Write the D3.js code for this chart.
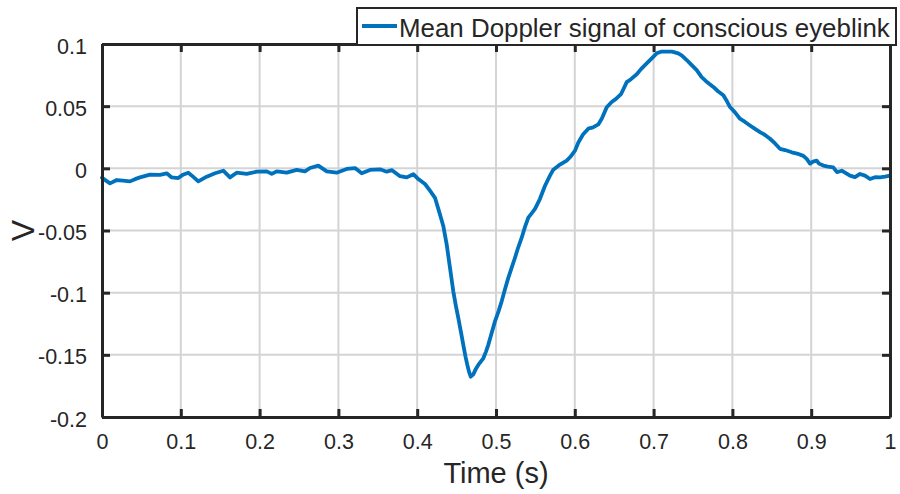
<!DOCTYPE html>
<html>
<head>
<meta charset="utf-8">
<script src="https://cdn.jsdelivr.net/npm/d3@7"></script>
<style>
  html, body { margin: 0; padding: 0; background: #fff; }
  svg { display: block; font-family: "Liberation Sans", Arial, sans-serif; }
</style>
</head>
<body>
<svg id="chart" width="900" height="494"></svg>
<script>
// Mean Doppler signal of a conscious eyeblink (time in s, amplitude in V)
const timeS = [
  0, 0.0051, 0.0102, 0.0187, 0.0266, 0.0355, 0.0419, 0.0482, 0.0609, 0.0736,
  0.0821, 0.0885, 0.0968, 0.1028, 0.1095, 0.1155, 0.1222, 0.1329, 0.1434, 0.1539,
  0.1624, 0.1709, 0.1836, 0.1963, 0.2090, 0.2154, 0.2217, 0.2344, 0.2471, 0.2576,
  0.2640, 0.2745, 0.2852, 0.2978, 0.3105, 0.3211, 0.3296, 0.3401, 0.3528, 0.3613,
  0.3680, 0.3782, 0.3867, 0.3951, 0.4014, 0.4099, 0.4162, 0.4226, 0.4268, 0.4302,
  0.4331, 0.4374, 0.4416, 0.4458, 0.4492, 0.4522, 0.4556, 0.4585, 0.4613, 0.4636,
  0.4657, 0.4679, 0.4712, 0.4746, 0.4775, 0.4839, 0.4873, 0.4902, 0.4943, 0.4987,
  0.5032, 0.5072, 0.5114, 0.5156, 0.5197, 0.5241, 0.5279, 0.5326, 0.5368, 0.5410,
  0.5457, 0.5495, 0.5558, 0.5622, 0.5685, 0.5727, 0.5812, 0.5897, 0.5939, 0.6003,
  0.6045, 0.6104, 0.6171, 0.6231, 0.6298, 0.6345, 0.6405, 0.6468, 0.6523, 0.6586,
  0.6659, 0.6713, 0.6786, 0.6840, 0.6912, 0.6967, 0.7039, 0.7094, 0.7166, 0.7234,
  0.7313, 0.7360, 0.7420, 0.7462, 0.7547, 0.7610, 0.7665, 0.7758, 0.7817, 0.7885,
  0.7931, 0.7970, 0.8033, 0.8096, 0.8160, 0.8223, 0.8287, 0.8350, 0.8414, 0.8477,
  0.8541, 0.8604, 0.8668, 0.8753, 0.8820, 0.8900, 0.8943, 0.8985, 0.9023, 0.9070,
  0.9099, 0.9154, 0.9213, 0.9280, 0.9327, 0.9387, 0.9429, 0.9492, 0.9556, 0.9619,
  0.9683, 0.9746, 0.9810, 0.9873, 0.9937, 1.0000
];
const signalV = [
  -0.0075, -0.0099, -0.0121, -0.0094, -0.0099, -0.0105, -0.0087, -0.0073, -0.0051, -0.0053,
  -0.0040, -0.0073, -0.0078, -0.0051, -0.0035, -0.0067, -0.0105, -0.0067, -0.0040, -0.0019,
  -0.0073, -0.0035, -0.0045, -0.0027, -0.0024, -0.0045, -0.0024, -0.0035, -0.0013, -0.0024,
  0.0003, 0.0022, -0.0024, -0.0035, -0.0005, 0.0002, -0.0040, -0.0013, -0.0008, -0.0027,
  -0.0015, -0.0063, -0.0073, -0.0047, -0.0086, -0.0126, -0.0180, -0.0237, -0.0326, -0.0399,
  -0.0463, -0.0611, -0.0800, -0.0989, -0.1110, -0.1205, -0.1320, -0.1420, -0.1514, -0.1581,
  -0.1635, -0.1676, -0.1657, -0.1611, -0.1581, -0.1528, -0.1474, -0.1420, -0.1328, -0.1231,
  -0.1150, -0.1070, -0.0973, -0.0881, -0.0803, -0.0719, -0.0641, -0.0558, -0.0471, -0.0396,
  -0.0358, -0.0326, -0.0245, -0.0140, -0.0059, -0.0011, 0.0030, 0.0062, 0.0089, 0.0143,
  0.0208, 0.0272, 0.0319, 0.0329, 0.0353, 0.0402, 0.0491, 0.0534, 0.0559, 0.0596,
  0.0693, 0.0717, 0.0757, 0.0798, 0.0844, 0.0879, 0.0925, 0.0938, 0.0938, 0.0939,
  0.0925, 0.0907, 0.0871, 0.0844, 0.0790, 0.0733, 0.0701, 0.0655, 0.0620, 0.0588,
  0.0539, 0.0493, 0.0450, 0.0399, 0.0373, 0.0345, 0.0317, 0.0291, 0.0268, 0.0238,
  0.0200, 0.0157, 0.0147, 0.0129, 0.0119, 0.0100, 0.0076, 0.0038, 0.0054, 0.0062,
  0.0038, 0.0022, 0.0014, 0.0008, -0.0031, -0.0019, -0.0035, -0.0059, -0.0071, -0.0045,
  -0.0059, -0.0086, -0.0071, -0.0073, -0.0067, -0.0059
];

const xTicks = [0, 0.1, 0.2, 0.3, 0.4, 0.5, 0.6, 0.7, 0.8, 0.9, 1];
const xTickLabels = ["0", "0.1", "0.2", "0.3", "0.4", "0.5", "0.6", "0.7", "0.8", "0.9", "1"];
const yTicks = [-0.2, -0.15, -0.1, -0.05, 0, 0.05, 0.1];
const yTickLabels = ["-0.2", "-0.15", "-0.1", "-0.05", "0", "0.05", "0.1"];
const seriesName = "Mean Doppler signal of conscious eyeblink";

const W = 900, H = 494;
const margin = { top: 44, right: 10, bottom: 77, left: 102 };
const iw = W - margin.left - margin.right;
const ih = H - margin.top - margin.bottom;

const axisColor = "#262626";
const lineColor = "#0072BD";
const gridColor = "#d4d4d4";

const svg = d3.select("#chart");
const g = svg.append("g").attr("transform", `translate(${margin.left},${margin.top})`);

const x = d3.scaleLinear().domain([0, 1]).range([0, iw]);
const y = d3.scaleLinear().domain([-0.2, 0.1]).range([ih, 0]);

// grid
g.append("g").selectAll("line").data(xTicks).join("line")
  .attr("x1", d => x(d)).attr("x2", d => x(d))
  .attr("y1", 0).attr("y2", ih)
  .attr("stroke", gridColor).attr("stroke-width", 2);
g.append("g").selectAll("line").data(yTicks).join("line")
  .attr("x1", 0).attr("x2", iw)
  .attr("y1", d => y(d)).attr("y2", d => y(d))
  .attr("stroke", gridColor).attr("stroke-width", 2);

// signal
const pts = timeS.map((t, i) => [t, signalV[i]]);
g.append("path")
  .datum(pts)
  .attr("fill", "none")
  .attr("stroke", lineColor)
  .attr("stroke-width", 3.8)
  .attr("stroke-linejoin", "round")
  .attr("stroke-linecap", "round")
  .attr("d", d3.line().x(d => x(d[0])).y(d => y(d[1])));

// axes (box with inward ticks)
function styleAxis(sel) {
  sel.select(".domain").attr("stroke", axisColor).attr("stroke-width", 3);
  sel.selectAll(".tick line").attr("stroke", axisColor).attr("stroke-width", 3);
  sel.selectAll(".tick text").attr("fill", axisColor)
    .style("font-size", "21.5px").style("font-family", "'Liberation Sans', Arial, sans-serif");
}
const xLab = d3.scaleOrdinal().domain(xTicks).range(xTickLabels);
const yLab = d3.scaleOrdinal().domain(yTicks).range(yTickLabels);

const gxB = g.append("g").attr("transform", `translate(0,${ih})`)
  .call(d3.axisBottom(x).tickValues(xTicks).tickFormat(d => xLab(d))
    .tickSizeInner(-8).tickSizeOuter(0).tickPadding(17));
styleAxis(gxB);
const gxT = g.append("g")
  .call(d3.axisTop(x).tickValues(xTicks).tickFormat("")
    .tickSizeInner(-8).tickSizeOuter(0));
styleAxis(gxT);
const gyL = g.append("g")
  .call(d3.axisLeft(y).tickValues(yTicks).tickFormat(d => yLab(d))
    .tickSizeInner(-8).tickSizeOuter(0).tickPadding(15));
styleAxis(gyL);
gyL.selectAll(".tick text").attr("dy", "0.42em");
const gyR = g.append("g").attr("transform", `translate(${iw},0)`)
  .call(d3.axisRight(y).tickValues(yTicks).tickFormat("")
    .tickSizeInner(-8).tickSizeOuter(0));
styleAxis(gyR);

// axis titles
svg.append("text")
  .attr("x", margin.left + iw / 2).attr("y", 483)
  .attr("text-anchor", "middle")
  .attr("fill", axisColor)
  .style("font-size", "29px")
  .text("Time (s)");
svg.append("text")
  .attr("transform", `translate(34,${margin.top + ih / 2}) rotate(-90)`)
  .attr("text-anchor", "middle")
  .attr("fill", axisColor)
  .style("font-size", "32px")
  .text("V");

// legend
const lg = svg.append("g");
lg.append("rect")
  .attr("x", 357).attr("y", 8).attr("width", 539).attr("height", 37)
  .attr("fill", "#fff").attr("stroke", axisColor).attr("stroke-width", 2);
lg.append("line")
  .attr("x1", 362).attr("x2", 397).attr("y1", 26).attr("y2", 26)
  .attr("stroke", lineColor).attr("stroke-width", 3.8);
lg.append("text")
  .attr("x", 399).attr("y", 37)
  .attr("fill", axisColor)
  .style("font-size", "25.9px")
  .text(seriesName);
</script>
</body>
</html>
